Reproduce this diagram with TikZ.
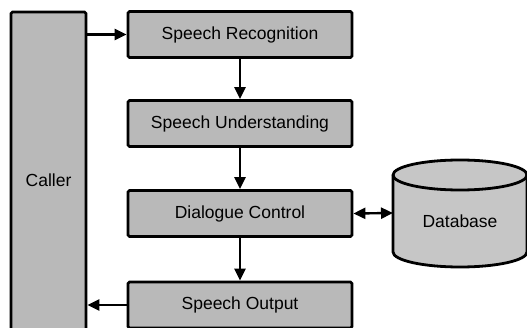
\documentclass[tikz,border=0pt]{standalone}
\usepackage{fontspec}
\setmainfont{Liberation Sans}
\usetikzlibrary{arrows.meta}
\begin{document}
\begin{tikzpicture}[x=1pt,y=1pt,
  blockbox/.style={draw=black, line width=2.8pt, fill=gray!55, rounded corners=1.5pt,
    minimum width=224pt, minimum height=46pt, inner sep=0pt,
    font=\fontsize{17.5}{20}\selectfont},
  flow/.style={line width=2.4pt, -{Triangle[length=12pt,width=11pt]}},
  bothflow/.style={line width=2.4pt, {Triangle[length=12pt,width=11pt]}-{Triangle[length=12pt,width=11pt]}}]
\useasboundingbox (0,0) rectangle (527,327);
\fill[white] (0,0) rectangle (527,327);

% caller column, running past the lower edge
\node[blockbox, minimum width=75pt, minimum height=336pt] (caller) at (48.5,147) {Caller};

% processing chain
\node[blockbox] (sr) at (240,292.5) {Speech Recognition};
\node[blockbox] (su) at (240,203.5) {Speech Understanding};
\node[blockbox] (dc) at (240,113.5) {Dialogue Control};
\node[blockbox] (so) at (240,22) {Speech Output};

% database cylinder
\filldraw[line width=2.8pt, fill=gray!45]
  (393,152) -- (393,75) arc[start angle=180, end angle=360, x radius=67, y radius=15]
  -- (527,152) arc[start angle=0, end angle=180, x radius=67, y radius=15] -- cycle;
\draw[line width=2.8pt] (393,152) arc[start angle=180, end angle=360, x radius=67, y radius=15];
\node[font=\fontsize{17.5}{20}\selectfont] (db) at (460,106) {Database};
\coordinate (dbw) at (393,114);

% connectors
\draw[flow] (caller.east |- sr.west) -- (sr.west);
\draw[flow] (sr) -- (su);
\draw[flow] (su) -- (dc);
\draw[flow] (dc) -- (so);
\draw[flow] (so.west) -- (caller.east |- so.west);
\draw[bothflow] (dc.east) -- (dbw);
\end{tikzpicture}
\end{document}
